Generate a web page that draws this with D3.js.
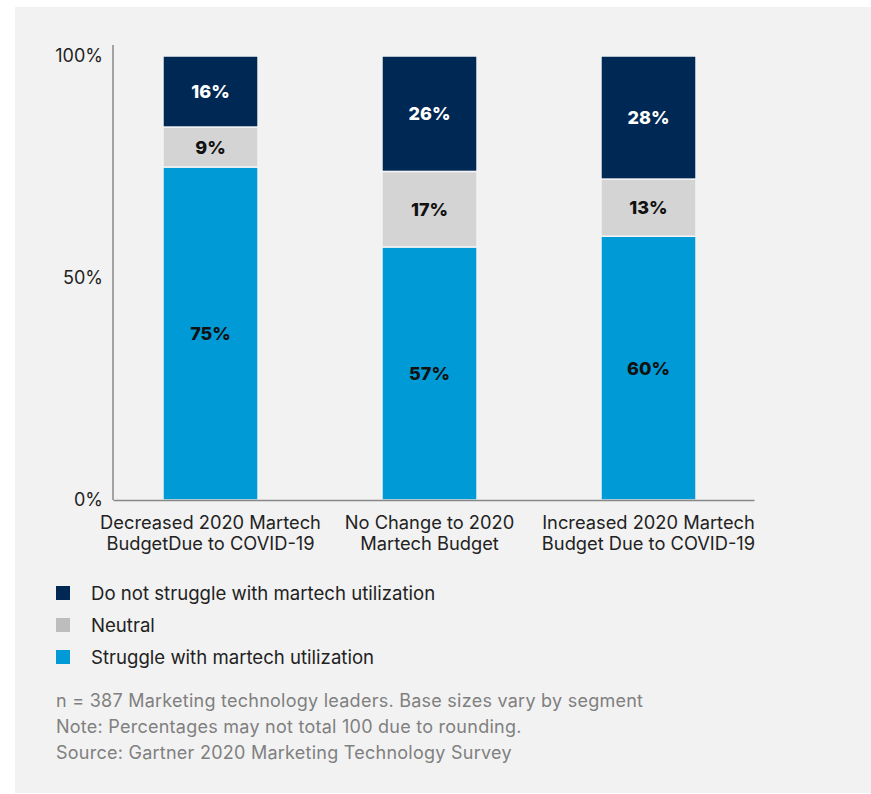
<!DOCTYPE html>
<html>
<head>
<meta charset="utf-8">
<script src="https://cdn.jsdelivr.net/npm/d3@7"></script>
<style>
  body { margin: 0; background: #fff; }
  svg { display: block; font-family: Inter, "Noto Sans", sans-serif; }
</style>
</head>
<body>
<svg id="chart" width="871" height="794"></svg>
<script>
// data
const categories = [
    ["Decreased 2020 Martech", "BudgetDue to COVID-19"],
    ["No Change to 2020", "Martech Budget"],
    ["Increased 2020 Martech", "Budget Due to COVID-19"]
];
const series = ["Struggle with martech utilization", "Neutral", "Do not struggle with martech utilization"];
const struggle = [75, 57, 60];
const neutral = [9, 17, 13];
const noStruggle = [16, 26, 28];
const yTicks = [0, 50, 100];
const notes = [
    "n = 387 Marketing technology leaders. Base sizes vary by segment",
    "Note: Percentages may not total 100 due to rounding.",
    "Source: Gartner 2020 Marketing Technology Survey"
];

const colors = { bar: ["#009bd6", "#d4d4d4", "#002855"], legend: ["#009bd6", "#bdbdbd", "#002855"], text: ["#111", "#111", "#fff"] };

const svg = d3.select("svg#chart");

// background panel
svg.append("rect")
    .attr("x", 15).attr("y", 7)
    .attr("width", 856).attr("height", 786)
    .attr("fill", "#f2f2f2");

const y = d3.scaleLinear().domain([0, 100]).range([500, 56]);
const x = d3.scaleBand()
    .domain(d3.range(categories.length))
    .range([113, 754])
    .paddingInner(0.566)
    .paddingOuter(0.2465)
    .align(0.463);

// stack, normalised so each column fills 100%
const rows = categories.map((c, i) => ({ i, s0: struggle[i], s1: neutral[i], s2: noStruggle[i] }));
const stack = d3.stack().keys(["s0", "s1", "s2"]).offset(d3.stackOffsetExpand);
const layers = stack(rows);

const g = svg.append("g");
layers.forEach((layer, k) => {
    g.append("g").selectAll("rect")
        .data(layer)
        .join("rect")
        .attr("x", d => x(d.data.i))
        .attr("width", x.bandwidth())
        .attr("y", d => y(d[1] * 100))
        .attr("height", d => y(d[0] * 100) - y(d[1] * 100))
        .attr("fill", colors.bar[k])
        .attr("stroke", "#f4f4f4")
        .attr("stroke-width", 1.5);

    g.append("g").selectAll("text")
        .data(layer)
        .join("text")
        .attr("x", d => x(d.data.i) + x.bandwidth() / 2)
        .attr("y", d => y((d[0] + d[1]) / 2 * 100))
        .attr("dy", "0.36em")
        .attr("text-anchor", "middle")
        .attr("font-size", 18)
        .attr("font-weight", 800)
        .attr("fill", colors.text[k])
        .text(d => d.data["s" + k] + "%");
});

// y axis
const yAxis = svg.append("g")
    .attr("transform", "translate(113,0)")
    .call(d3.axisLeft(y).tickValues(yTicks).tickSize(0).tickPadding(10).tickFormat(d => d + "%"));
yAxis.select(".domain").attr("stroke", "#888").attr("stroke-width", 1.5).attr("d", "M0,45V500");
yAxis.selectAll("text").attr("font-size", 18).attr("fill", "#222").attr("font-family", "Inter, sans-serif");

// x axis
const xAxis = svg.append("g")
    .attr("transform", "translate(0,500)")
    .call(d3.axisBottom(x).tickSize(0).tickFormat(""));
xAxis.select(".domain").attr("stroke", "#888").attr("stroke-width", 1.5);
xAxis.selectAll(".tick text").remove();
xAxis.selectAll(".tick").append("text")
    .attr("text-anchor", "middle")
    .attr("fill", "#222")
    .attr("font-size", 18.3)
    .attr("font-family", "Inter, sans-serif")
    .selectAll("tspan")
    .data(i => categories[i])
    .join("tspan")
    .attr("x", 0)
    .attr("y", (d, j) => 28.5 + j * 21)
    .text(d => d);

// legend
const legendOrder = [2, 1, 0];
const legend = svg.append("g").selectAll("g")
    .data(legendOrder)
    .join("g")
    .attr("transform", (d, j) => `translate(56,${593 + j * 32})`);
legend.append("rect")
    .attr("y", -7).attr("width", 14).attr("height", 14)
    .attr("fill", d => colors.legend[d]);
legend.append("text")
    .attr("x", 35).attr("dy", "0.36em")
    .attr("font-size", 18.6)
    .attr("fill", "#222")
    .text(d => series[d]);

// notes
svg.append("g").selectAll("text")
    .data(notes)
    .join("text")
    .attr("x", 56)
    .attr("y", (d, j) => 706.5 + j * 26.3)
    .attr("font-size", 18)
    .attr("letter-spacing", 0.25)
    .attr("fill", "#808080")
    .text(d => d);
</script>
</body>
</html>
